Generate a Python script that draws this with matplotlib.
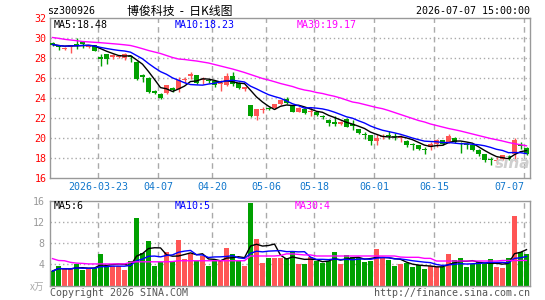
import matplotlib
matplotlib.use("Agg")
import matplotlib.pyplot as plt
import numpy as np
import pandas as pd

# ---------------- data ----------------
opens = [29.5, 29.2, 28.85, 29.1, 29.35, 29.5, 29.1, 29.25, 28.0, 28.3,
         28.1, 28.1, 27.95, 28.2, 27.6, 26.3, 26.0, 24.7, 24.4, 24.5,
         25.0, 24.85, 25.8, 26.2, 26.25, 25.8, 25.75, 25.7, 25.4, 25.3,
         26.1, 25.5, 24.9, 23.25, 22.15, 22.75, 23.0, 23.0, 23.35, 23.9,
         23.15, 22.6, 22.9, 22.6, 22.6, 22.2, 21.8, 21.5, 21.4, 21.9,
         21.3, 20.85, 20.3, 20.25, 19.7, 20.1, 20.3, 20.2, 20.0, 19.7,
         19.3, 19.25, 18.8, 19.05, 19.35, 19.75, 19.5, 20.0, 19.45, 19.3,
         19.25, 18.8, 18.35, 17.8, 17.7, 17.85, 18.2, 18.35, 19.3, 19.0]
highs = [29.6, 29.25, 29.05, 29.3, 30.0, 29.55, 29.3, 29.3, 28.4, 28.35,
         28.4, 28.3, 28.45, 28.3, 27.65, 26.35, 26.05, 24.8, 24.45, 25.3,
         25.05, 26.1, 26.1, 26.6, 26.3, 26.1, 25.9, 25.75, 25.75, 26.45,
         26.6, 25.55, 25.1, 23.3, 22.9, 23.05, 23.05, 23.4, 23.8, 24.1,
         23.2, 23.05, 22.95, 23.05, 22.7, 22.3, 21.85, 22.15, 21.7, 22.0,
         21.8, 20.9, 20.55, 20.3, 20.4, 20.35, 20.65, 20.5, 20.25, 19.75,
         19.45, 19.3, 19.05, 19.6, 19.9, 19.8, 20.35, 20.05, 19.6, 19.5,
         19.3, 18.85, 18.4, 18.1, 18.1, 18.3, 18.3, 19.95, 19.6, 19.1]
lows = [29.2, 28.75, 28.8, 28.5, 28.9, 28.98, 28.98, 28.65, 27.2, 27.4,
        27.85, 28.0, 27.75, 27.6, 25.8, 25.6, 24.45, 24.35, 23.9, 24.35,
        24.6, 24.6, 25.5, 25.9, 25.4, 25.35, 25.45, 25.1, 24.65, 25.2,
        25.15, 24.85, 24.7, 22.1, 21.8, 22.5, 22.8, 22.9, 23.3, 23.4,
        22.55, 22.55, 22.4, 22.15, 22.2, 21.9, 21.2, 21.2, 21.25, 21.05,
        20.75, 20.4, 19.9, 19.3, 19.25, 19.9, 19.9, 19.75, 19.6, 19.1,
        18.8, 18.75, 18.35, 18.75, 19.1, 19.3, 19.45, 19.5, 18.5, 18.9,
        18.7, 18.2, 17.6, 17.25, 17.4, 17.8, 17.8, 17.7, 18.9, 18.3]
closes = [29.3, 29.1, 29.0, 29.25, 29.2, 29.4, 29.25, 28.7, 27.9, 27.9,
          28.3, 28.2, 28.4, 28.1, 25.85, 26.1, 24.55, 24.45, 24.0, 25.25,
          24.75, 25.8, 25.9, 26.3, 25.5, 25.85, 25.65, 25.25, 25.45, 26.15,
          25.4, 24.95, 25.0, 22.15, 22.8, 22.85, 22.85, 23.35, 23.75, 23.45,
          22.6, 23.0, 22.5, 22.7, 22.3, 22.1, 21.5, 21.4, 21.5, 21.1,
          21.2, 20.45, 20.25, 19.7, 20.0, 20.15, 20.2, 20.1, 20.05, 19.3,
          19.25, 18.85, 18.75, 19.35, 19.75, 19.4, 20.15, 19.55, 19.4, 19.25,
          18.8, 18.35, 17.75, 17.75, 17.8, 18.25, 17.9, 19.75, 19.2, 18.35]
volumes = [2.75, 3.7, 3.1, 3.1, 4.1, 2.95, 3.2, 3.3, 6.0, 3.7,
           3.7, 3.7, 2.95, 4.65, 12.85, 6.1, 8.5, 3.7, 4.5, 6.4,
           4.7, 8.7, 5.1, 6.0, 4.7, 5.6, 3.8, 4.7, 4.7, 7.2,
           6.0, 4.7, 3.8, 15.7, 8.9, 4.3, 5.2, 5.2, 5.2, 5.2,
           6.3, 4.0, 4.1, 5.4, 4.7, 4.35, 4.7, 6.3, 4.1, 5.8,
           5.4, 5.2, 4.5, 4.65, 6.95, 5.4, 4.8, 3.7, 4.0, 4.3,
           3.5, 3.9, 3.15, 3.7, 3.5, 3.5, 6.0, 4.8, 5.2, 3.5,
           4.1, 4.5, 4.0, 5.0, 3.5, 3.3, 5.2, 13.2, 6.3, 6.0]
# 30-day averages (their history lies before the window)
ma30_price = [30.0, 29.92, 29.82, 29.75, 29.68, 29.6, 29.56, 29.52, 29.48, 29.43,
              29.38, 29.33, 29.27, 29.2, 29.05, 28.88, 28.7, 28.55, 28.4, 28.2,
              28.0, 27.85, 27.8, 27.72, 27.65, 27.55, 27.45, 27.3, 27.15, 27.0,
              26.85, 26.68, 26.5, 26.3, 26.1, 25.9, 25.75, 25.58, 25.4, 25.25,
              25.1, 24.9, 24.75, 24.65, 24.5, 24.4, 24.25, 24.12, 23.95, 23.75,
              23.55, 23.45, 23.3, 23.15, 23.0, 22.88, 22.7, 22.5, 22.3, 22.1,
              21.9, 21.7, 21.55, 21.35, 21.2, 21.05, 20.9, 20.78, 20.65, 20.5,
              20.35, 20.2, 20.05, 19.9, 19.78, 19.65, 19.5, 19.38, 19.28, 19.17]
ma30_vol = [5.1, 4.75, 4.7, 4.4, 4.25, 4.2, 4.1, 4.1, 4.1, 4.1,
            4.1, 4.1, 4.1, 4.4, 4.5, 4.5, 4.5, 4.5, 4.5, 4.5,
            4.55, 4.7, 4.7, 4.7, 4.7, 4.7, 4.7, 4.7, 4.7, 4.7,
            4.7, 4.7, 4.7, 5.6, 5.6, 5.6, 5.6, 5.6, 5.7, 6.0,
            6.0, 5.9, 5.8, 5.8, 5.6, 5.6, 5.6, 5.6, 5.6, 5.6,
            5.6, 5.6, 5.6, 5.6, 5.6, 5.6, 5.6, 5.6, 5.4, 5.35,
            5.35, 5.35, 5.15, 5.15, 4.65, 4.65, 4.65, 4.65, 4.65, 4.65,
            4.65, 4.65, 4.65, 4.65, 4.65, 4.75, 4.75, 4.75, 4.75, 4.75]
tick_pos = [8, 18, 27, 36, 44, 54, 64, 79]
tick_labels = ["2026-03-23", "04-07", "04-20", "05-06", "05-18", "06-01", "06-15", "07-07"]
price_ticks = [16, 18, 20, 22, 24, 26, 28, 30, 32]
vol_ticks = [4, 8, 12, 16]

# ---------------- drawing ----------------
RED = "#ff5555"
GREEN = "#00a000"
GRID = "#aaaaaa"
FRAME = "#999999"
MONO = "DejaVu Sans Mono"
FS = 7.2

o = np.array(opens); h = np.array(highs); l = np.array(lows); c = np.array(closes)
v = np.array(volumes)
n = len(c)
x = np.arange(n)
cols = [RED if cc >= oo else GREEN for oo, cc in zip(o, c)]
bw = 5 / 6
xc = x + bw / 2

ma5 = pd.Series(c).rolling(5, min_periods=1).mean()
ma10 = pd.Series(c).rolling(10, min_periods=1).mean()
vma5 = pd.Series(v).rolling(5, min_periods=1).mean()
vma10 = pd.Series(v).rolling(10, min_periods=1).mean()

W, H = 545, 300
fig = plt.figure(figsize=(W / 100, H / 100), dpi=100)
fig.patch.set_facecolor("white")

L, R = 50, 530
ax = fig.add_axes([L / W, 1 - 177.5 / H, (R - L) / W, (177.5 - 17.5) / H])
axv = fig.add_axes([L / W, 1 - 285.6 / H, (R - L) / W, (285.6 - 201) / H])

for a in (ax, axv):
    a.set_xlim(0, n)
    for s in a.spines.values():
        s.set_color(FRAME)
        s.set_linewidth(1)
    for t in tick_pos:
        a.axvline(t, color=GRID, lw=1, ls=(0, (4, 3)), zorder=0)
    a.tick_params(length=0)

# candles
ax.vlines(xc, l, h, colors=cols, lw=1, zorder=2)
body_b = np.minimum(o, c)
body_h = np.maximum(np.abs(c - o), 0.08)
ax.bar(x, body_h, bottom=body_b, width=bw, align="edge", color=cols, lw=0, zorder=3)
ax.plot(xc, ma5, color="black", lw=1, zorder=4)
ax.plot(xc, ma10, color="#0000ff", lw=1, zorder=4)
ax.plot(xc, ma30_price, color="#ff00ff", lw=1, zorder=4)
ax.set_ylim(16, 32)
ax.set_yticks(price_ticks)
ax.set_yticklabels([str(t) for t in price_ticks], color="red", fontsize=FS, family=MONO)
for t in price_ticks[1:-1]:
    ax.axhline(t, color=GRID, lw=1, ls=(0, (1, 2)), zorder=0)
ax.tick_params(axis="y", pad=2.5)
ax.set_xticks(tick_pos)
xl = ax.set_xticklabels(tick_labels, color="#1177cc", fontsize=FS, family=MONO)
xl[-1].set_horizontalalignment("right")
ax.tick_params(axis="x", pad=3.5)

# volume
axv.bar(x, v, width=bw, align="edge", color=cols, lw=0, zorder=2)
axv.plot(xc, vma5, color="black", lw=1, zorder=4)
axv.plot(xc, vma10, color="#0000ff", lw=1, zorder=4)
axv.plot(xc, ma30_vol, color="#ff00ff", lw=1, zorder=4)
axv.set_ylim(0, 16)
axv.set_yticks(vol_ticks)
axv.set_yticklabels([str(t) for t in vol_ticks], color="#999999", fontsize=FS, family=MONO)
for t in vol_ticks[:-1]:
    axv.axhline(t, color=GRID, lw=1, ls=(0, (1, 2)), zorder=0)
axv.tick_params(axis="y", pad=4)
axv.set_xticks([])

def ftext(px, py, s, **kw):
    fig.text(px / W, 1 - py / H, s, **kw)

# header
ftext(47, 11.5, "sz300926", fontsize=FS, family=MONO, va="center", ha="left")
ftext(180, 11.5, "博俊科技  -  日K线图", fontsize=8.6,
      family=["Noto Sans CJK SC", "DejaVu Sans"], va="center", ha="center")
ftext(530, 11.5, "2026-07-07 15:00:00", fontsize=FS, family=MONO, va="center", ha="right")
ftext(54, 25, "MA5:18.48", fontsize=FS, family=MONO, va="center", color="black")
ftext(175, 25, "MA10:18.23", fontsize=FS, family=MONO, va="center", color="#0000ff")
ftext(297, 25, "MA30:19.17", fontsize=FS, family=MONO, va="center", color="#ff00ff")
ftext(513, 164, "sina", fontsize=11, family="DejaVu Sans", style="italic", weight="bold",
      va="center", ha="center", color="#cfcfcf")

# volume labels
ftext(54, 206, "MA5:6", fontsize=FS, family=MONO, va="center", color="black")
ftext(175, 206, "MA10:5", fontsize=FS, family=MONO, va="center", color="#0000ff")
ftext(295, 206, "MA30:4", fontsize=FS, family=MONO, va="center", color="#ff00ff")
ftext(44, 287, "x万", fontsize=7, family=["Noto Sans CJK SC", "DejaVu Sans"],
      va="center", ha="right", color="#aaaaaa", style="italic")

# footer
ftext(50, 292.5, "Copyright 2026 SINA.COM", fontsize=FS, family=MONO, va="center",
      ha="left", color="#555555")
ftext(530, 292.5, "http://finance.sina.com.cn", fontsize=FS, family=MONO, va="center",
      ha="right", color="#555555")

fig.savefig("out.png", dpi=100)
